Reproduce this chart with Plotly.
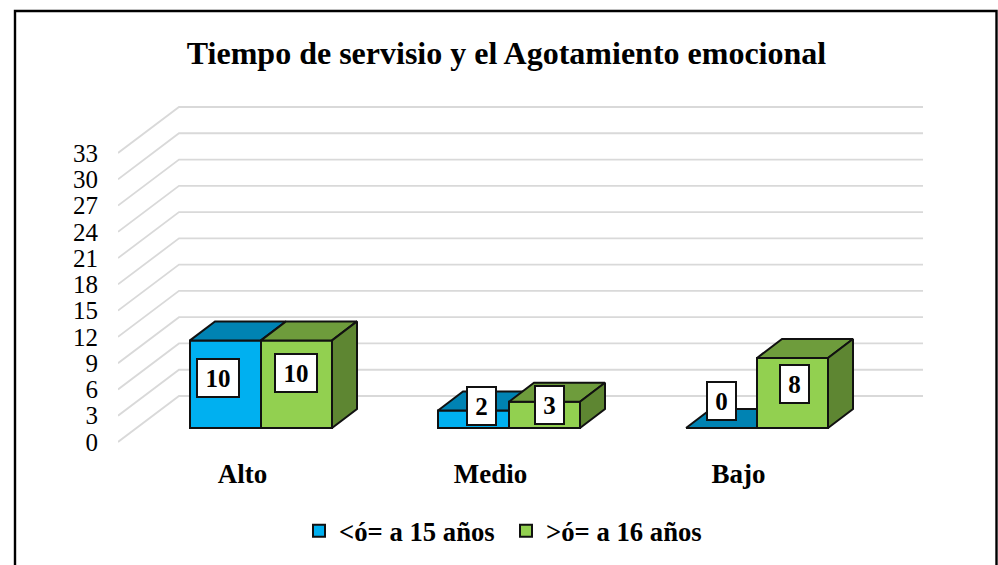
import plotly.graph_objects as go

categories = ["Alto", "Medio", "Bajo"]
series_names = ["<ó= a 15 años", ">ó= a 16 años"]
values_low = [10, 2, 0]
values_high = [10, 3, 8]
y_ticks = [0, 3, 6, 9, 12, 15, 18, 21, 24, 27, 30, 33]

W, H = 998, 565
L, R, T, B = 118, 923, 104, 455
PX_X = 248.0          # px per category
PX_Y = 8.758          # px per value unit
X0_PX, Y0_PX = 261, 442
xr = [(L - X0_PX) / PX_X, (R - X0_PX) / PX_X]
yr = [(Y0_PX - B) / PX_Y, (Y0_PX - T) / PX_Y]

# oblique projection
WALL_DX, WALL_DY = 61 / PX_X, 46 / PX_Y
BAR_DX, BAR_DY = 25 / PX_X, 19 / PX_Y
FLOOR = 14 / PX_Y
BAR_W = 71 / PX_X
LABEL_SHIFT = 18.5 / PX_X

SERIF = "Liberation Serif"
BLUE, BLUE_TOP = "#00B0F0", "#0083B3"
GREEN, GREEN_TOP, GREEN_SIDE = "#92D050", "#6E9C3C", "#5E8632"
EDGE = "#111111"
GRID = "#D9D9D9"
EDGE_W = 2

grid_shapes = [
    dict(type="path", xref="x", yref="y", layer="below", line=dict(color=GRID, width=1.8),
         path=f"M {xr[0]} {v} L {xr[0] + WALL_DX} {v + WALL_DY} L {xr[1]} {v + WALL_DY}")
    for v in y_ticks
]


def poly(points_list):
    xs, ys = [], []
    for pts in points_list:
        xs += [p[0] for p in pts] + [pts[0][0], None]
        ys += [p[1] for p in pts] + [pts[0][1], None]
    return xs, ys


def top_face(i, v, left):
    a, b, h = i + left, i + left + BAR_W, FLOOR + v
    return [(a, h), (a + BAR_DX, h + BAR_DY), (b + BAR_DX, h + BAR_DY), (b, h)]


def side_face(i, v, left):
    b, h = i + left + BAR_W, FLOOR + v
    return [(b, FLOOR), (b + BAR_DX, FLOOR + BAR_DY), (b + BAR_DX, h + BAR_DY), (b, h)]


def front_face(i, v, left):
    a, b, h = i + left, i + left + BAR_W, FLOOR + v
    return [(a, FLOOR), (a, h), (b, h), (b, FLOOR)]


fig = go.Figure()
idx = list(range(len(categories)))
for name, vals, col in [(series_names[0], values_low, BLUE), (series_names[1], values_high, GREEN)]:
    fig.add_trace(go.Bar(x=idx, y=vals, base=[FLOOR] * len(vals), name=name, width=BAR_W,
                         offset=-BAR_W if col == BLUE else 0,
                         marker=dict(color=col, line=dict(color=EDGE, width=EDGE_W))))


def face(pts, color):
    xs, ys = poly(pts)
    fig.add_trace(go.Scatter(x=xs, y=ys, mode="lines", fill="toself", fillcolor=color,
                             line=dict(color=EDGE, width=EDGE_W), hoverinfo="skip", showlegend=False))


face([top_face(i, v, -BAR_W) for i, v in zip(idx, values_low)], BLUE_TOP)
face([front_face(i, v, 0) for i, v in zip(idx, values_high)], GREEN)
face([top_face(i, v, 0) for i, v in zip(idx, values_high)], GREEN_TOP)
face([side_face(i, v, 0) for i, v in zip(idx, values_high)], GREEN_SIDE)

# value labels: hand placed in the original, nudged in px from each bar's centre
nudges_low = [(-8, 6.5), (7.5, 13), (0, 27.5)]
nudges_high = [(-0.5, 11.5), (4.5, 9.5), (1.5, 8.5)]
annotations = []
for vals, nudges, left in [(values_low, nudges_low, -BAR_W), (values_high, nudges_high, 0)]:
    for i, v, (dx, dy) in zip(idx, vals, nudges):
        annotations.append(dict(
            x=i + left + BAR_W / 2, y=FLOOR + v / 2, xref="x", yref="y", text=f"<b>{v}</b>",
            showarrow=False, xshift=dx, yshift=dy, bgcolor="white", bordercolor=EDGE, borderwidth=EDGE_W,
            width=(37 if v >= 10 else 24), height=33, borderpad=1.5,
            font=dict(family=SERIF, size=25, color="black")))

frame = dict(type="rect", xref="paper", yref="paper", layer="above",
             x0=(15 - L) / (R - L), x1=(996.5 - L) / (R - L),
             y0=(B - 580) / (B - T), y1=(B - 11) / (B - T),
             line=dict(color="black", width=2.4))

fig.update_layout(
    width=W, height=H,
    margin=dict(l=L, r=W - R, t=T, b=H - B, autoexpand=False),
    paper_bgcolor="white", plot_bgcolor="rgba(0,0,0,0)",
    title=dict(text="<b>Tiempo de servisio y el Agotamiento emocional</b>", xref="container", yref="container",
               x=506.5 / W, y=1 - 53 / H, xanchor="center", yanchor="middle",
               font=dict(family=SERIF, size=32, color="black")),
    barmode="overlay",
    xaxis=dict(range=xr, tickmode="array", tickvals=[i - LABEL_SHIFT for i in idx], ticktext=[f"<b>{c}</b>" for c in categories],
               showgrid=False, zeroline=False, showline=False, ticks="",
               tickfont=dict(family=SERIF, size=27, color="black"), ticklabelstandoff=0),
    yaxis=dict(range=yr, tickmode="array", tickvals=y_ticks, showgrid=False, zeroline=False, showline=False,
               ticks="", tickfont=dict(family=SERIF, size=25, color="black"), ticklabelstandoff=19),
    legend=dict(orientation="h", x=(299 - L) / (R - L), y=(B - 531) / (B - T), xanchor="left", yanchor="middle",
                font=dict(family=SERIF, size=26.7, color="black", weight=700),
                entrywidthmode="pixels", entrywidth=162, bgcolor="rgba(0,0,0,0)", itemclick=False),
    annotations=annotations,
    shapes=grid_shapes + [frame],
)
fig.write_html("out.html", config=dict(displayModeBar=False),
               post_script="document.body.style.margin='0';document.body.style.overflow='hidden';")
